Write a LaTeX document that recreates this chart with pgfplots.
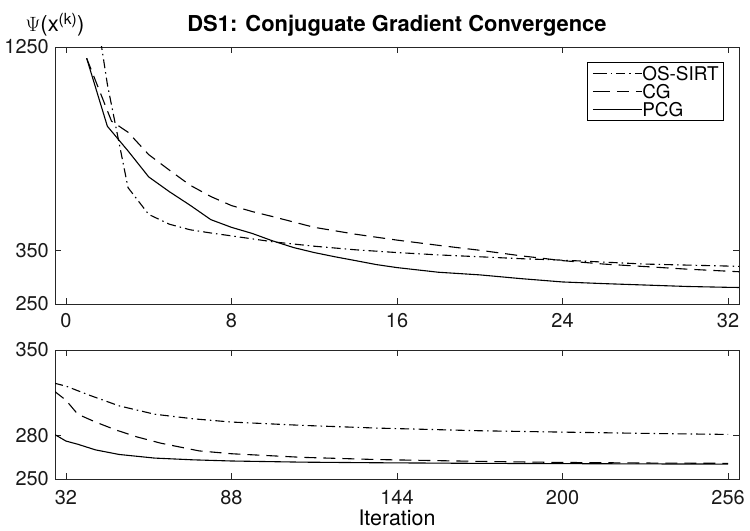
\documentclass[border=0pt]{standalone}
\usepackage{fontspec}
\setmainfont{TeX Gyre Heros}
\usepackage{pgfplots}
\pgfplotsset{compat=1.18}

\tikzset{
  cgline/.style={black, line width=1.1bp, dash pattern=on 12bp off 7bp},
  osline/.style={black, line width=1.1bp, dash pattern=on 9bp off 4bp on 1.5bp off 4bp},
  pcgline/.style={black, line width=1.1bp, solid},
}

\begin{document}
\begin{tikzpicture}
\useasboundingbox (0,0) rectangle (750bp,531bp);

\begin{axis}[
  scale only axis, width=684bp, height=257bp,
  at={(55bp,227bp)}, anchor=south west,
  ymode=log, yminorticks=false, xminorticks=false,
  axis line style={draw=black!85, line width=0.8bp},
  tick style={draw=black!85, line width=0.8bp},
  tick align=inside, tick pos=both, major tick length=6bp,
  /pgf/number format/assume math mode=true,
  ticklabel style={font=\fontsize{20}{24}\selectfont, text=black!90},
  xticklabel style={anchor=north, inner sep=0pt, yshift=-9bp},
  yticklabel style={anchor=east, inner sep=0pt, xshift=-6bp},
  xmin=-0.53, xmax=32.53, ymin=250, ymax=1250,
  xtick={0,8,16,24,32},
  ytick={250,350,1250}, yticklabels={250,350,1250},
  title={DS1: Conjuguate Gradient Convergence},
  title style={font=\bfseries\fontsize{22}{24}\selectfont, at={(axis description cs:0.5,1)}, anchor=base, yshift=9.5bp, inner sep=0pt},
  ylabel={{\fontsize{22}{24}\selectfont$\Psi$(x\textsuperscript{(k)})}},
  ylabel style={at={(axis description cs:0,1)}, anchor=base, rotate=-90, yshift=15bp, inner sep=0pt},
  legend style={at={(1,1)}, anchor=north east, xshift=-15bp, yshift=-15bp,
    draw=black, line width=0.8bp, fill=white,
    font=\fontsize{19}{19}\selectfont, inner xsep=5bp, inner ysep=4.5bp,
    row sep=4.5bp, nodes={inner sep=0pt, text height=13.5bp, text depth=0bp},
    /tikz/every even column/.append style={column sep=3bp}},
  legend cell align=left,
  legend image code/.code={\path (0bp,0bp) -- (5bp,0bp); \draw[#1] (5bp,0bp) -- (49bp,0bp);},
]
\addplot[osline] coordinates {
(1,2300) (2,990) (3,518) (4,438) (5,412) (6,398) (7,390) (8,383) (9,376)
(10,369) (11,364) (12,359) (13,355) (14,351) (15,348) (16,345) (18,340)
(20,336) (22,332) (24,329) (26,325) (28,321) (30,319) (32,317) (33,316)};
\addlegendentry{OS-SIRT}
\addplot[cgline] coordinates {
(1,1165) (2.2,786) (3,733) (4,637) (5,578) (6,526) (7,490) (8,463) (9,446)
(10,432) (12,404) (14,387) (16,373) (18,361) (20,350) (22,338) (24,328)
(26,321) (28,316) (30,311) (32,307) (33,305)};
\addlegendentry{CG}
\addplot[pcgline] coordinates {
(1,1165) (2,761) (3,652) (4,554) (5,505) (6,464) (7,424) (8,404) (9,389)
(10,371) (11,356) (12,345) (13,336) (14,328) (15,320) (16,314) (18,305)
(20,300) (22,293) (24,287) (26,284) (28,281.5) (30,279) (32,277.5) (33,277)};
\addlegendentry{PCG}
\end{axis}

\begin{axis}[
  scale only axis, width=684bp, height=129bp,
  at={(55bp,52bp)}, anchor=south west,
  ymode=log, yminorticks=false, xminorticks=false,
  axis line style={draw=black!85, line width=0.8bp},
  tick style={draw=black!85, line width=0.8bp},
  tick align=inside, tick pos=both, major tick length=6bp,
  /pgf/number format/assume math mode=true,
  ticklabel style={font=\fontsize{20}{24}\selectfont, text=black!90},
  xticklabel style={anchor=north, inner sep=0pt, yshift=-11.5bp},
  yticklabel style={anchor=east, inner sep=0pt, xshift=-6bp},
  xmin=28.3, xmax=259.7, ymin=250, ymax=350,
  xtick={32,88,144,200,256},
  ytick={250,280,350}, yticklabels={250,280,350},
  xlabel={Iteration},
  xlabel style={font=\fontsize{21.5}{24}\selectfont, at={(axis description cs:0.5,0)}, anchor=base, yshift=-47bp, inner sep=0pt},
]
\addplot[osline] coordinates {
(28,321) (32,318.5) (40,311) (50,302.5) (62,296) (75,292.5) (88,290) (112,287.5)
(137,285.5) (172,283.5) (200,282.5) (230,281.5) (256,280.8)};
\addplot[cgline] coordinates {
(28,314.5) (32,307) (36,296) (42,290) (49,284) (56,279) (64,274.5) (77,269)
(88,267) (112,264.5) (137,263) (170,261.8) (200,261) (230,260.6) (256,260.4)};
\addplot[pcgline] coordinates {
(28,281) (32,276) (36,273.7) (42,269.7) (50,266.5) (62,264) (75,262.8) (88,262)
(112,261.2) (137,260.8) (170,260.4) (200,260.2) (230,260) (256,259.9)};
\end{axis}
\end{tikzpicture}
\end{document}
